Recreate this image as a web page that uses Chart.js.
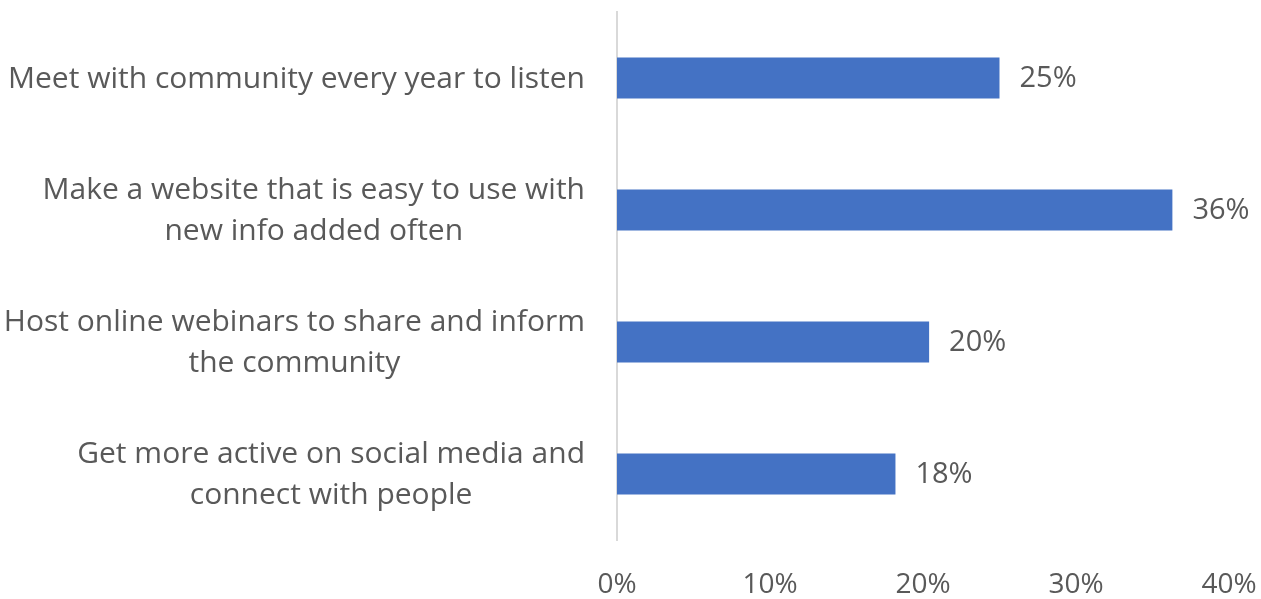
<!DOCTYPE html>
<html><head><meta charset="utf-8">
<script src="https://cdn.jsdelivr.net/npm/chart.js@4"></script>
<style>html,body{margin:0;padding:0;background:#fff;}#wrap{width:1261px;height:599px;}</style>
</head><body><div id="wrap"><canvas id="c" width="1261" height="599"></canvas></div>
<script>
const categories = [
  ["Meet with community every year to listen"],
  ["Make a website that is easy to use with", "new info added often"],
  ["Host online webinars to share and inform", "the community"],
  ["Get more active on social media and", "connect with people"]
];
const values = [25, 36.3, 20.4, 18.2];
const tickValues = [0, 10, 20, 30, 40];

const FONT = "'Open Sans'";
const TEXT = "#595959";

const labelPlugin = {
  id: 'textLabels',
  afterDatasetsDraw(chart) {
    const ctx = chart.ctx;
    const meta = chart.getDatasetMeta(0);
    const yScale = chart.scales.y;
    ctx.save();
    ctx.fillStyle = TEXT;
    ctx.textBaseline = "middle";
    // value labels
    ctx.font = "29px " + FONT;
    ctx.textAlign = "left";
    meta.data.forEach((bar, i) => {
      ctx.fillText(Math.round(values[i]) + "%", bar.x + 20, bar.y + 1);
    });
    // category labels, centred block, right edge near the axis
    ctx.font = "30px " + FONT;
    ctx.textAlign = "center";
    const lh = 41;
    const rightEdge = chart.chartArea.left - 32;
    categories.forEach((lines, i) => {
      const cy = yScale.getPixelForValue(i);
      const w = Math.max(...lines.map(l => ctx.measureText(l).width));
      const cx = rightEdge - w / 2;
      const y0 = cy - (lines.length - 1) * lh / 2;
      lines.forEach((l, k) => ctx.fillText(l, cx, y0 + k * lh + 1));
    });
    ctx.restore();
  }
};

new Chart(document.getElementById('c'), {
  type: 'bar',
  data: {
    labels: categories,
    datasets: [{
      data: values,
      backgroundColor: '#4472C4',
      borderWidth: 0,
      categoryPercentage: 1,
      barPercentage: 0.31
    }]
  },
  options: {
    indexAxis: 'y',
    responsive: false,
    animation: false,
    devicePixelRatio: 1,
    layout: { padding: { top: 12, right: 32, left: 0, bottom: 0 } },
    plugins: { legend: { display: false }, tooltip: { enabled: false } },
    scales: {
      x: {
        min: 0, max: 40,
        afterBuildTicks(scale) { scale.ticks = tickValues.map(v => ({ value: v })); },
        grid: { display: false, drawTicks: false },
        border: { display: false },
        ticks: {
          callback: v => v + "%",
          color: TEXT,
          font: { family: "Open Sans", size: 28 },
          padding: 28,
          maxRotation: 0
        },
        afterFit(scale) { scale.height = 59; scale.paddingLeft = 0; scale.paddingRight = 0; }
      },
      y: {
        grid: { display: false, drawTicks: false },
        border: { display: true, color: '#d9d9d9', width: 2 },
        ticks: { display: false },
        afterFit(scale) { scale.width = 617; scale.paddingTop = 0; scale.paddingBottom = 0; }
      }
    }
  },
  plugins: [labelPlugin]
});
</script></body></html>
